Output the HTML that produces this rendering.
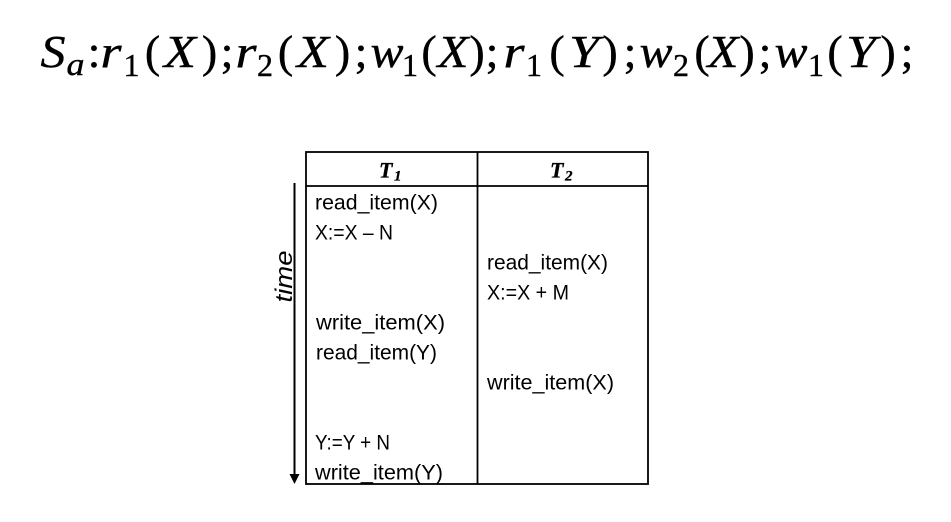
<!DOCTYPE html>
<html>
<head>
<meta charset="utf-8">
<style>
  html, body { margin: 0; padding: 0; background: #fff; }
  svg { display: block; }
</style>
</head>
<body>
<svg width="951" height="522" viewBox="0 0 951 522" xmlns="http://www.w3.org/2000/svg">
  <rect width="951" height="522" fill="#fff"/>

  <!-- Equation -->
  <g font-family="Liberation Serif, serif" fill="#000" stroke="#000" stroke-width="0.4" text-anchor="middle">
    <g font-style="italic" font-size="46">
      <text x="53" y="67" textLength="25" lengthAdjust="spacingAndGlyphs">S</text>
      <text x="111" y="67" textLength="21" lengthAdjust="spacingAndGlyphs">r</text>
      <text x="180" y="67" textLength="32" lengthAdjust="spacingAndGlyphs">X</text>
      <text x="246" y="67" textLength="21" lengthAdjust="spacingAndGlyphs">r</text>
      <text x="313" y="67" textLength="32" lengthAdjust="spacingAndGlyphs">X</text>
      <text x="387" y="67" textLength="33" lengthAdjust="spacingAndGlyphs">w</text>
      <text x="453" y="67" textLength="31" lengthAdjust="spacingAndGlyphs">X</text>
      <text x="514" y="67" textLength="21" lengthAdjust="spacingAndGlyphs">r</text>
      <text x="584" y="67" textLength="30" lengthAdjust="spacingAndGlyphs">Y</text>
      <text x="656" y="67" textLength="33" lengthAdjust="spacingAndGlyphs">w</text>
      <text x="723" y="67" textLength="31" lengthAdjust="spacingAndGlyphs">X</text>
      <text x="791" y="67" textLength="33" lengthAdjust="spacingAndGlyphs">w</text>
      <text x="861" y="67" textLength="30" lengthAdjust="spacingAndGlyphs">Y</text>
    </g>
    <g font-size="46">
      <text x="94" y="67">:</text>
      <text x="152.5" y="67">(</text>
      <text x="209.5" y="67">)</text>
      <text x="227" y="67">;</text>
      <text x="285.5" y="67">(</text>
      <text x="342.5" y="67">)</text>
      <text x="361" y="67">;</text>
      <text x="429" y="67">(</text>
      <text x="477" y="67">)</text>
      <text x="492" y="67">;</text>
      <text x="557" y="67">(</text>
      <text x="610" y="67">)</text>
      <text x="630" y="67">;</text>
      <text x="702" y="67">(</text>
      <text x="747" y="67">)</text>
      <text x="765" y="67">;</text>
      <text x="835" y="67">(</text>
      <text x="888" y="67">)</text>
      <text x="907" y="67">;</text>
    </g>
    <g font-size="32">
      <text x="75.5" y="75" font-style="italic" textLength="18" lengthAdjust="spacingAndGlyphs">a</text>
      <text x="131.5" y="76">1</text>
      <text x="265" y="76">2</text>
      <text x="410" y="76">1</text>
      <text x="534" y="76">1</text>
      <text x="681" y="76">2</text>
      <text x="816" y="76">1</text>
    </g>
  </g>

  <!-- Table -->
  <g stroke="#000" stroke-width="1.8" fill="none">
    <rect x="306" y="152" width="342" height="332"/>
    <line x1="306" y1="186" x2="648" y2="186"/>
    <line x1="477.5" y1="152" x2="477.5" y2="484"/>
  </g>

  <!-- Header -->
  <g font-family="Liberation Serif, serif" font-weight="bold" font-style="italic" fill="#000" stroke="#000" stroke-width="0.3">
    <text x="379" y="177.5" font-size="22">T</text>
    <text x="394" y="180.5" font-size="15">1</text>
    <text x="550" y="177.5" font-size="22">T</text>
    <text x="565" y="180.5" font-size="15">2</text>
  </g>

  <!-- Body text -->
  <g font-family="Liberation Sans, sans-serif" font-size="21" fill="#000">
    <text x="315" y="209.5" textLength="123" lengthAdjust="spacingAndGlyphs">read_item(X)</text>
    <text x="315" y="239.5" textLength="78" lengthAdjust="spacingAndGlyphs">X:=X – N</text>
    <text x="487" y="269.5" textLength="121" lengthAdjust="spacingAndGlyphs">read_item(X)</text>
    <text x="487" y="299.5" textLength="82" lengthAdjust="spacingAndGlyphs">X:=X + M</text>
    <text x="316" y="329.5" textLength="129" lengthAdjust="spacingAndGlyphs">write_item(X)</text>
    <text x="316" y="359.5" textLength="121" lengthAdjust="spacingAndGlyphs">read_item(Y)</text>
    <text x="487" y="389.5" textLength="127" lengthAdjust="spacingAndGlyphs">write_item(X)</text>
    <text x="315" y="449.5" textLength="75" lengthAdjust="spacingAndGlyphs">Y:=Y + N</text>
    <text x="315" y="479.5" textLength="128" lengthAdjust="spacingAndGlyphs">write_item(Y)</text>
  </g>

  <!-- time arrow -->
  <line x1="294.5" y1="183" x2="294.5" y2="476" stroke="#000" stroke-width="2"/>
  <polygon points="289.5,474 299.5,474 294.5,484" fill="#000"/>
  <text transform="translate(292,276.5) rotate(-90)" text-anchor="middle"
        font-family="Liberation Sans, sans-serif" font-style="italic" font-size="24"
        textLength="52" lengthAdjust="spacingAndGlyphs" fill="#000">time</text>
</svg>
</body>
</html>
